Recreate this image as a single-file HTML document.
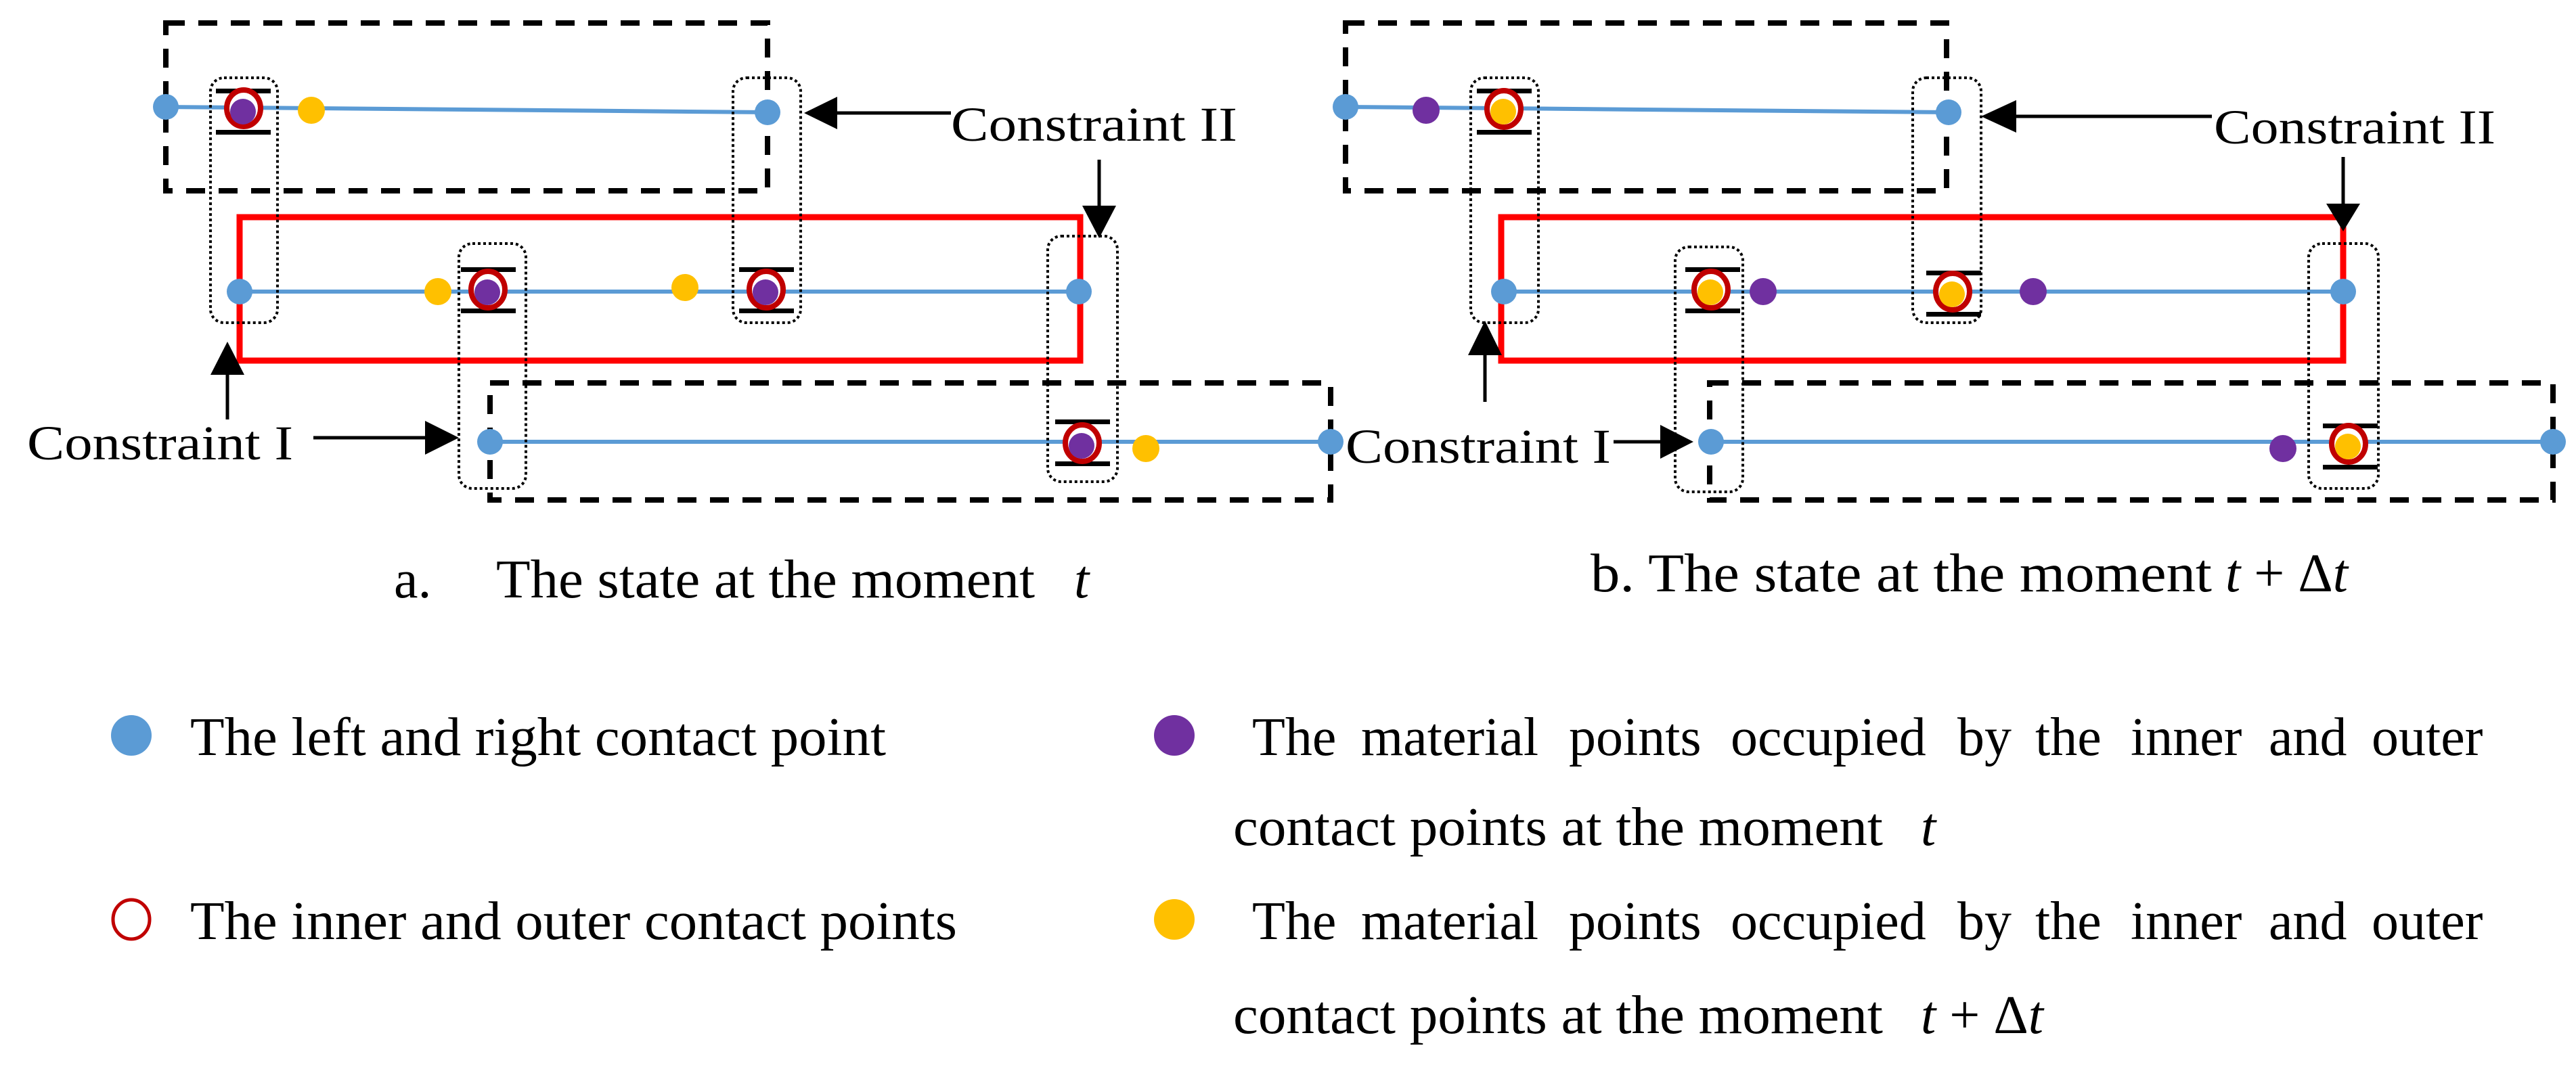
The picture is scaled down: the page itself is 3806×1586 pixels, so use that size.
<!DOCTYPE html>
<html><head><meta charset="utf-8"><style>html,body{margin:0;padding:0;background:#fff}svg{display:block}</style></head>
<body>
<svg width="3806" height="1586" viewBox="0 0 3806 1586" xmlns="http://www.w3.org/2000/svg" font-family="'Liberation Serif', serif">
<g fill="none" stroke="#000" stroke-width="8" stroke-dasharray="28 20">
<rect x="245" y="34" width="889" height="248"/>
<rect x="724" y="566" width="1242" height="173"/>
<rect x="1988" y="34" width="888" height="248"/>
<rect x="2526" y="566" width="1246" height="173"/>
</g>
<g fill="none" stroke="#FF0000" stroke-width="9">
<rect x="354" y="321" width="1242" height="212"/>
<rect x="2218" y="321" width="1244" height="212"/>
</g>
<g stroke="#5B9BD5" stroke-width="6" fill="none">
<line x1="245" y1="158" x2="1134" y2="166"/>
<line x1="354" y1="431" x2="1594" y2="431"/>
<line x1="724" y1="653" x2="1966" y2="653"/>
<line x1="1988" y1="158" x2="2879" y2="166"/>
<line x1="2222" y1="431" x2="3462" y2="431"/>
<line x1="2528" y1="653" x2="3772" y2="653"/>
</g>
<g fill="none" stroke="#000" stroke-width="4" stroke-dasharray="4 4">
<rect x="311" y="115" width="99" height="362" rx="20"/>
<rect x="1083" y="115" width="100" height="362" rx="20"/>
<rect x="678" y="360" width="99" height="362" rx="20"/>
<rect x="1548" y="349" width="103" height="363" rx="20"/>
<rect x="2173" y="115" width="100" height="362" rx="20"/>
<rect x="2826" y="115" width="101" height="362" rx="20"/>
<rect x="2475" y="365" width="100" height="362" rx="20"/>
<rect x="3411" y="360" width="103" height="362" rx="20"/>
</g>
<g fill="#000">
<rect x="319" y="131" width="81" height="7"/><rect x="319" y="192" width="81" height="7"/>
<rect x="681" y="395" width="81" height="7"/><rect x="681" y="456" width="81" height="7"/>
<rect x="1092" y="395" width="81" height="7"/><rect x="1092" y="456" width="81" height="7"/>
<rect x="1559" y="620" width="81" height="7"/><rect x="1559" y="682" width="81" height="7"/>
<rect x="2182" y="131" width="81" height="7"/><rect x="2182" y="192" width="81" height="7"/>
<rect x="2490" y="395" width="81" height="7"/><rect x="2490" y="456" width="81" height="7"/>
<rect x="2846" y="400" width="81" height="7"/><rect x="2846" y="461" width="81" height="7"/>
<rect x="3432" y="626" width="81" height="7"/><rect x="3432" y="687" width="81" height="7"/>
</g>
<g fill="#5B9BD5">
<circle cx="245" cy="158" r="19"/><circle cx="1134" cy="166" r="19"/>
<circle cx="354" cy="431" r="19"/><circle cx="1594" cy="431" r="19"/>
<circle cx="724" cy="653" r="19"/><circle cx="1966" cy="653" r="19"/>
<circle cx="1988" cy="158" r="19"/><circle cx="2879" cy="166" r="19"/>
<circle cx="2222" cy="431" r="19"/><circle cx="3462" cy="431" r="19"/>
<circle cx="2528" cy="653" r="19"/><circle cx="3772" cy="653" r="19"/>
</g>
<g fill="#FFC000">
<circle cx="460" cy="163" r="20"/><circle cx="647" cy="431" r="20"/><circle cx="1012" cy="425" r="20"/><circle cx="1693" cy="663" r="20"/>
</g>
<g fill="#7030A0">
<circle cx="2107" cy="163" r="20"/><circle cx="2605" cy="431" r="20"/><circle cx="3004" cy="431" r="20"/><circle cx="3373" cy="663" r="20"/>
</g>
<g stroke="#C00000" stroke-width="8" fill="#fff">
<ellipse cx="360" cy="160" rx="25" ry="27"/><ellipse cx="721" cy="428" rx="25" ry="27"/><ellipse cx="1132" cy="428" rx="25" ry="27"/><ellipse cx="1599" cy="655" rx="25" ry="27"/>
<ellipse cx="2222" cy="161" rx="25" ry="27"/><ellipse cx="2528" cy="428" rx="25" ry="27"/><ellipse cx="2885" cy="431" rx="25" ry="27"/><ellipse cx="3470" cy="656" rx="25" ry="27"/>
</g>
<g fill="#7030A0">
<circle cx="359" cy="165" r="19"/><circle cx="720" cy="432" r="19"/><circle cx="1131" cy="432" r="19"/><circle cx="1598" cy="659" r="19"/>
</g>
<g fill="#FFC000">
<circle cx="2221" cy="165" r="19"/><circle cx="2527" cy="432" r="19"/><circle cx="2884" cy="435" r="19"/><circle cx="3469" cy="660" r="19"/>
</g>
<g stroke="#000" stroke-width="5">
<line x1="1230" y1="167" x2="1405" y2="167"/>
<line x1="1624" y1="236" x2="1624" y2="310"/>
<line x1="336" y1="550" x2="336" y2="620"/>
<line x1="463" y1="647" x2="632" y2="647"/>
<line x1="2975" y1="172" x2="3268" y2="172"/>
<line x1="3462" y1="232" x2="3462" y2="305"/>
<line x1="2194" y1="520" x2="2194" y2="594"/>
<line x1="2384" y1="653" x2="2457" y2="653"/>
</g>
<g fill="#000">
<polygon points="1188,167 1237,143 1237,191"/>
<polygon points="1624,352 1599,304 1649,304"/>
<polygon points="336,505 311,554 361,554"/>
<polygon points="678,647 628,622 628,672"/>
<polygon points="2927,172 2979,148 2979,196"/>
<polygon points="3462,342 3437,301 3487,301"/>
<polygon points="2194,474 2169,525 2219,525"/>
<polygon points="2502,653 2453,628 2453,678"/>
</g>
<g font-size="72" fill="#000">
<text x="1405" y="208" textLength="423" lengthAdjust="spacingAndGlyphs">Constraint II</text>
<text x="3271" y="212" textLength="416" lengthAdjust="spacingAndGlyphs">Constraint II</text>
<text x="40" y="679" textLength="393" lengthAdjust="spacingAndGlyphs">Constraint I</text>
<text x="1988" y="684" textLength="392" lengthAdjust="spacingAndGlyphs">Constraint I</text>
</g>
<g font-size="80" fill="#000">
<text x="582" y="883">a.</text>
<text x="733" y="883" textLength="796" lengthAdjust="spacingAndGlyphs">The state at the moment</text>
<text x="1587" y="883" font-style="italic">t</text>
<text x="2350" y="874" textLength="918" lengthAdjust="spacingAndGlyphs">b. The state at the moment</text>
<text x="3288" y="874"><tspan font-style="italic">t</tspan> + Δ<tspan font-style="italic">t</tspan></text>

<text x="281" y="1116" textLength="1028" lengthAdjust="spacingAndGlyphs">The left and right contact point</text>
<text x="281" y="1388" textLength="1133" lengthAdjust="spacingAndGlyphs">The inner and outer contact points</text>
<text y="1116"><tspan x="1850">The</tspan><tspan x="2011">material</tspan><tspan x="2318">points</tspan><tspan x="2557">occupied</tspan><tspan x="2892">by</tspan><tspan x="3007">the</tspan><tspan x="3148">inner</tspan><tspan x="3352">and</tspan><tspan x="3504">outer</tspan></text>
<text x="1822" y="1249" textLength="960" lengthAdjust="spacingAndGlyphs">contact points at the moment</text>
<text x="2838" y="1249" font-style="italic">t</text>
<text y="1388"><tspan x="1850">The</tspan><tspan x="2011">material</tspan><tspan x="2318">points</tspan><tspan x="2557">occupied</tspan><tspan x="2892">by</tspan><tspan x="3007">the</tspan><tspan x="3148">inner</tspan><tspan x="3352">and</tspan><tspan x="3504">outer</tspan></text>
<text x="1822" y="1527" textLength="960" lengthAdjust="spacingAndGlyphs">contact points at the moment</text>
<text x="2838" y="1527"><tspan font-style="italic">t</tspan> + Δ<tspan font-style="italic">t</tspan></text>
</g>
<circle cx="194" cy="1087" r="30" fill="#5B9BD5"/>
<ellipse cx="194" cy="1359" rx="27" ry="29" fill="none" stroke="#C00000" stroke-width="5"/>
<circle cx="1735" cy="1087" r="30" fill="#7030A0"/>
<circle cx="1735" cy="1359" r="30" fill="#FFC000"/>
</svg>
</body></html>
